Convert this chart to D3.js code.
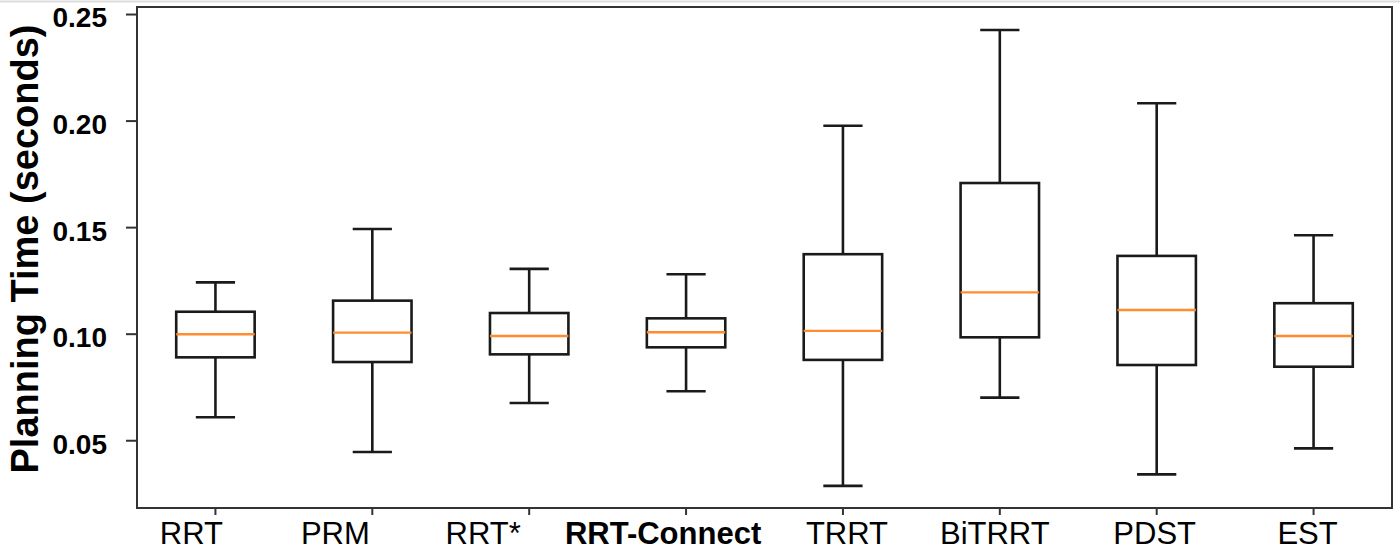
<!DOCTYPE html>
<html>
<head>
<meta charset="utf-8">
<script src="https://cdn.jsdelivr.net/npm/d3@7"></script>
<style>
  body { margin: 0; background: #fff; }
  svg { display: block; }
  .tick text { font-family: "Liberation Sans", Arial, sans-serif; }
</style>
</head>
<body>
<svg id="chart" width="1400" height="556"></svg>
<script>
// planner names along the x axis
const planners = ["RRT", "PRM", "RRT*", "RRT-Connect", "TRRT", "BiTRRT", "PDST", "EST"];
// box stats (seconds)
const whiskerLow  = [0.0608, 0.0445, 0.0675, 0.0730, 0.0286, 0.0700, 0.0340, 0.0462];
const quartileLow = [0.0889, 0.0867, 0.0903, 0.0936, 0.0877, 0.0983, 0.0853, 0.0845];
const medians     = [0.0997, 0.1005, 0.0989, 0.1007, 0.1013, 0.1194, 0.1111, 0.0989];
const quartileHigh= [0.1103, 0.1155, 0.1097, 0.1072, 0.1373, 0.1707, 0.1365, 0.1143];
const whiskerHigh = [0.1241, 0.1491, 0.1304, 0.1279, 0.1976, 0.2425, 0.2081, 0.1462];
const yTicks = [0.05, 0.10, 0.15, 0.20, 0.25];

// the category labels in the source sit a little off their ticks (px)
const labelNudge = [-24, -37, -46, -23, 4, -5, -2, -6];

const width = 1400, height = 556;
const margin = {top: 7, right: 8, bottom: 48, left: 137};

const svg = d3.select("#chart");

// faint line along the top edge of the image
svg.append("line")
  .attr("x1", 0).attr("x2", width)
  .attr("y1", 1.5).attr("y2", 1.5)
  .attr("stroke", "#dcdcdc").attr("stroke-width", 2);

const x = d3.scaleBand()
  .domain(planners)
  .range([margin.left, width - margin.right])
  .padding(0);

const y = d3.scaleLinear()
  .domain([0.0182, 0.2533])
  .range([height - margin.bottom, margin.top]);

const boxes = planners.map((p, i) => ({
  name: p,
  lo: whiskerLow[i], q1: quartileLow[i], med: medians[i],
  q3: quartileHigh[i], hi: whiskerHigh[i]
}));

const boxW = x.bandwidth() * 0.5;
const capW = x.bandwidth() * 0.25;
const cx = d => x(d.name) + x.bandwidth() / 2;

const g = svg.append("g");
const box = g.selectAll("g.box").data(boxes).join("g").attr("class", "box");

// whiskers
box.append("line")
  .attr("x1", cx).attr("x2", cx)
  .attr("y1", d => y(d.q3)).attr("y2", d => y(d.hi))
  .attr("stroke", "#1a1a1a").attr("stroke-width", 2.6);
box.append("line")
  .attr("x1", cx).attr("x2", cx)
  .attr("y1", d => y(d.q1)).attr("y2", d => y(d.lo))
  .attr("stroke", "#1a1a1a").attr("stroke-width", 2.6);
// caps
["hi", "lo"].forEach(k => {
  box.append("line")
    .attr("x1", d => cx(d) - capW / 2).attr("x2", d => cx(d) + capW / 2)
    .attr("y1", d => y(d[k])).attr("y2", d => y(d[k]))
    .attr("stroke", "#1a1a1a").attr("stroke-width", 2.6);
});
// boxes
box.append("rect")
  .attr("x", d => cx(d) - boxW / 2)
  .attr("width", boxW)
  .attr("y", d => y(d.q3))
  .attr("height", d => y(d.q1) - y(d.q3))
  .attr("fill", "none")
  .attr("stroke", "#1a1a1a").attr("stroke-width", 2.6);
// medians
box.append("line")
  .attr("x1", d => cx(d) - boxW / 2).attr("x2", d => cx(d) + boxW / 2)
  .attr("y1", d => y(d.med)).attr("y2", d => y(d.med))
  .attr("stroke", "#ff8c2e").attr("stroke-width", 2.4);

// frame
svg.append("rect")
  .attr("x", margin.left).attr("y", margin.top)
  .attr("width", width - margin.left - margin.right)
  .attr("height", height - margin.top - margin.bottom)
  .attr("fill", "none").attr("stroke", "#333").attr("stroke-width", 2);

// axes
const xAxis = gg => gg
  .attr("transform", "translate(0," + (height - margin.bottom) + ")")
  .call(d3.axisBottom(x).tickSize(7).tickPadding(7).tickSizeOuter(0));
const yAxis = gg => gg
  .attr("transform", "translate(" + margin.left + ",0)")
  .call(d3.axisLeft(y).tickValues(yTicks).tickFormat(d3.format(".2f"))
    .tickSize(11).tickPadding(19).tickSizeOuter(0));

const gx = svg.append("g").call(xAxis);
gx.select(".domain").remove();
gx.selectAll(".tick line").attr("stroke", "#333").attr("stroke-width", 2);
gx.selectAll(".tick text")
  .attr("font-size", 31)
  .attr("fill", "#000")
  .attr("dx", (d, i) => labelNudge[i])
  .attr("font-weight", d => d === "RRT-Connect" ? "bold" : "normal");

const gy = svg.append("g").call(yAxis);
gy.select(".domain").remove();
gy.selectAll(".tick line").attr("stroke", "#333").attr("stroke-width", 2);
gy.selectAll(".tick text")
  .attr("font-size", 28)
  .attr("dy", "0.46em")
  .attr("font-weight", "bold")
  .attr("fill", "#000");

// y label
svg.append("text")
  .attr("transform", "translate(38,249) rotate(-90)")
  .attr("text-anchor", "middle")
  .attr("font-family", "Liberation Sans, Arial, sans-serif")
  .attr("font-weight", "bold")
  .attr("font-size", 38)
  .attr("fill", "#000")
  .text("Planning Time (seconds)");
</script>
</body>
</html>
